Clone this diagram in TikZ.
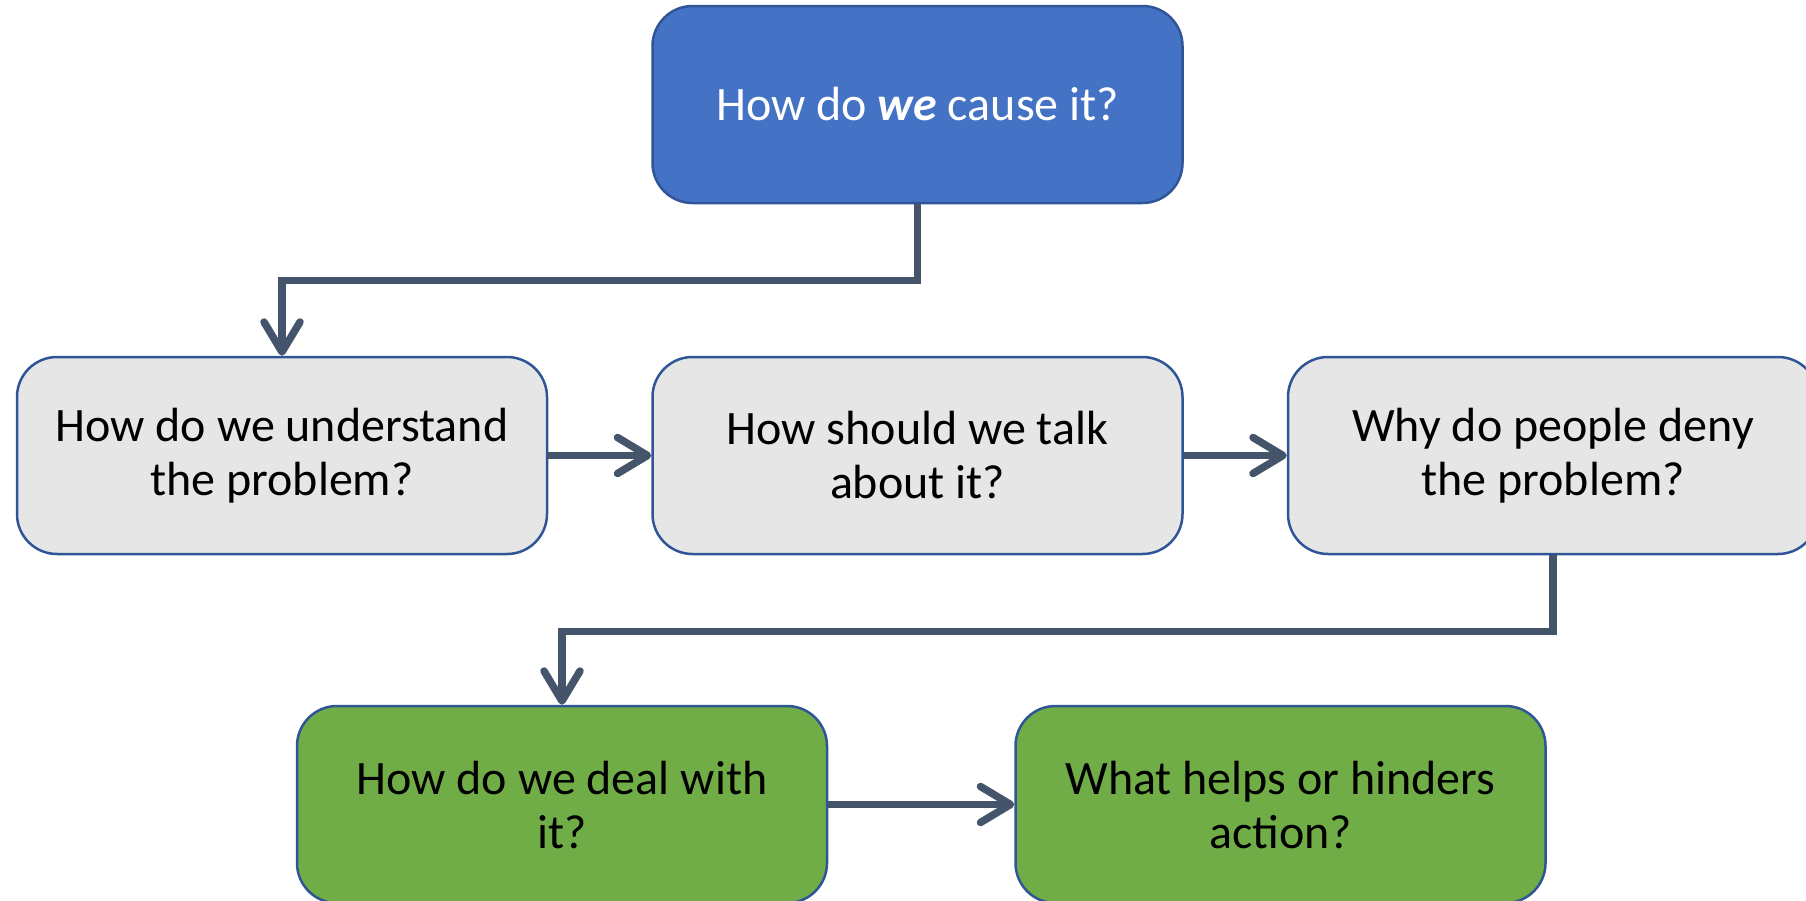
\documentclass[tikz,border=0pt]{standalone}
\usepackage{fontspec}
\setmainfont{Carlito}
\usetikzlibrary{arrows.meta}
\definecolor{boxblue}{HTML}{4472C4}
\definecolor{boxgray}{HTML}{E7E6E6}
\definecolor{boxgreen}{HTML}{70AD47}
\definecolor{edgeblue}{HTML}{2F5597}
\definecolor{conncol}{HTML}{44546A}
\begin{document}
\begin{tikzpicture}[x=1pt,y=-1pt,
  qbox/.style={draw=edgeblue,line width=2.5pt,rounded corners=40pt,
    minimum width=530pt,minimum height=197pt,inner sep=0pt,align=center,
    font=\fontsize{48}{54}\selectfont},
  conn/.style={draw=conncol,line width=7.5pt,
    -{Straight Barb[length=30pt,width=36pt,round]}}]
\useasboundingbox (0,0) rectangle (1806,900);
\node[qbox,fill=boxblue,text=white] (top) at (917.5,104.5) {How do \textbf{\textit{we}} cause it?};
\node[qbox,fill=boxgray] (b1) at (282,455.5) {How do we understand\\the problem?};
\node[qbox,fill=boxgray] (b2) at (917.5,455.5) {How should we talk\\about it?};
\node[qbox,fill=boxgray] (b3) at (1553,455.5) {Why do people deny\\the problem?};
\node[qbox,fill=boxgreen] (g1) at (562,804.5) {How do we deal with\\it?};
\node[qbox,fill=boxgreen] (g2) at (1280.5,804.5) {What helps or hinders\\action?};
\draw[conn] (top.south) -- ++(0,76) -| (b1.north);
\draw[conn] (b1.east) -- (b2.west);
\draw[conn] (b2.east) -- (b3.west);
\draw[conn] (b3.south) -- ++(0,76) -| (g1.north);
\draw[conn] (g1.east) -- (g2.west);
\end{tikzpicture}
\end{document}
